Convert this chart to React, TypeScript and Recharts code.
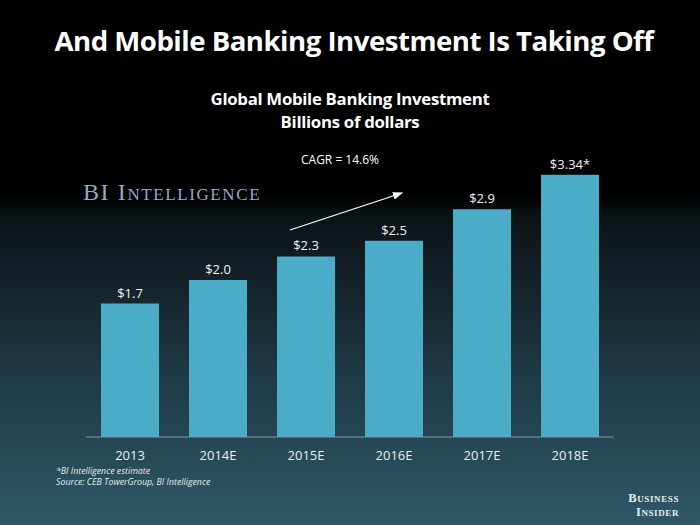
// Global mobile banking investment — bar chart on a dark slide background

import { BarChart, Bar, XAxis, YAxis, LabelList } from "recharts";

const years = ["2013", "2014E", "2015E", "2016E", "2017E", "2018E"];
const investment = [1.7, 2.0, 2.3, 2.5, 2.9, 3.34];
const valueLabels = ["$1.7", "$2.0", "$2.3", "$2.5", "$2.9", "$3.34*"];

const BAR = "#4aacc6";
const FONT = "'Open Sans', 'Noto Sans', sans-serif";
const SERIF = "'Liberation Serif', 'DejaVu Serif', serif";

const data = years.map((year, i) => ({ year, value: investment[i], label: valueLabels[i] }));

export default function App() {
  return (
    <div
      style={{
        position: "absolute",
        left: 0,
        top: 0,
        width: 700,
        height: 525,
        overflow: "hidden",
        fontFamily: FONT,
        color: "#fff",
        background: "linear-gradient(to bottom, #000 0px, #000 195px, #0b1216 215px, #1f3a47 380px, #2f5869 525px)",
      }}
    >
      <div style={{ position: "absolute", top: 21, left: 4, width: 700, textAlign: "center", fontSize: 27.6, fontWeight: 700, letterSpacing: -0.5 }}>
        And Mobile Banking Investment Is Taking Off
      </div>
      <div style={{ position: "absolute", top: 87, width: 700, textAlign: "center", fontSize: 16.8, fontWeight: 700, lineHeight: "23px", letterSpacing: -0.3 }}>
        Global Mobile Banking Investment
        <br />
        Billions of dollars
      </div>
      <div style={{ position: "absolute", left: 301, top: 151, fontSize: 12 }}>CAGR = 14.6%</div>
      <div
        style={{
          position: "absolute",
          left: 83,
          top: 179,
          fontFamily: SERIF,
          fontVariant: "small-caps",
          fontSize: 24,
          letterSpacing: 1.6,
          color: "#93abc9",
        }}
      >
        BI Intelligence
      </div>

      <div style={{ position: "absolute", left: 0, top: 0 }}>
        <BarChart width={700} height={525} data={data} margin={{ top: 123, right: 86, bottom: 58, left: 86 }}>
          <XAxis
            dataKey="year"
            height={30}
            tickLine={false}
            axisLine={{ stroke: "#7f939e", strokeWidth: 1 }}
            tick={{ fill: "#e8eef2", fontSize: 13, fontFamily: FONT }}
            tickMargin={8}
          />
          <YAxis hide domain={[0, 4]} />
          <Bar dataKey="value" fill={BAR} barSize={58} isAnimationActive={false}>
            <LabelList dataKey="label" position="top" offset={6} fill="#f2f2f2" fontSize={13} fontFamily={FONT} />
          </Bar>
        </BarChart>
      </div>

      <svg width={700} height={525} style={{ position: "absolute", left: 0, top: 0, pointerEvents: "none" }}>
        <defs>
          <marker id="arr" markerWidth="8" markerHeight="6" refX="7" refY="3" orient="auto">
            <path d="M0,0 L8,3 L0,6 z" fill="#fff" />
          </marker>
        </defs>
        <line x1={290} y1={230} x2={402} y2={193} stroke="#fff" strokeWidth={1.3} markerEnd="url(#arr)" />
      </svg>

      <div style={{ position: "absolute", left: 56, top: 466, fontSize: 8.8, fontStyle: "italic", lineHeight: "11px", color: "#e4eaee" }}>
        *BI Intelligence estimate
        <br />
        Source: CEB TowerGroup, BI Intelligence
      </div>
      <div
        style={{
          position: "absolute",
          right: 21,
          top: 491,
          fontFamily: SERIF,
          fontVariant: "small-caps",
          fontSize: 12.5,
          lineHeight: "14px",
          letterSpacing: 0.6,
          color: "#e6ecef",
          fontWeight: 700,
          textAlign: "right",
        }}
      >
        Business
        <br />
        Insider
      </div>
    </div>
  );
}
